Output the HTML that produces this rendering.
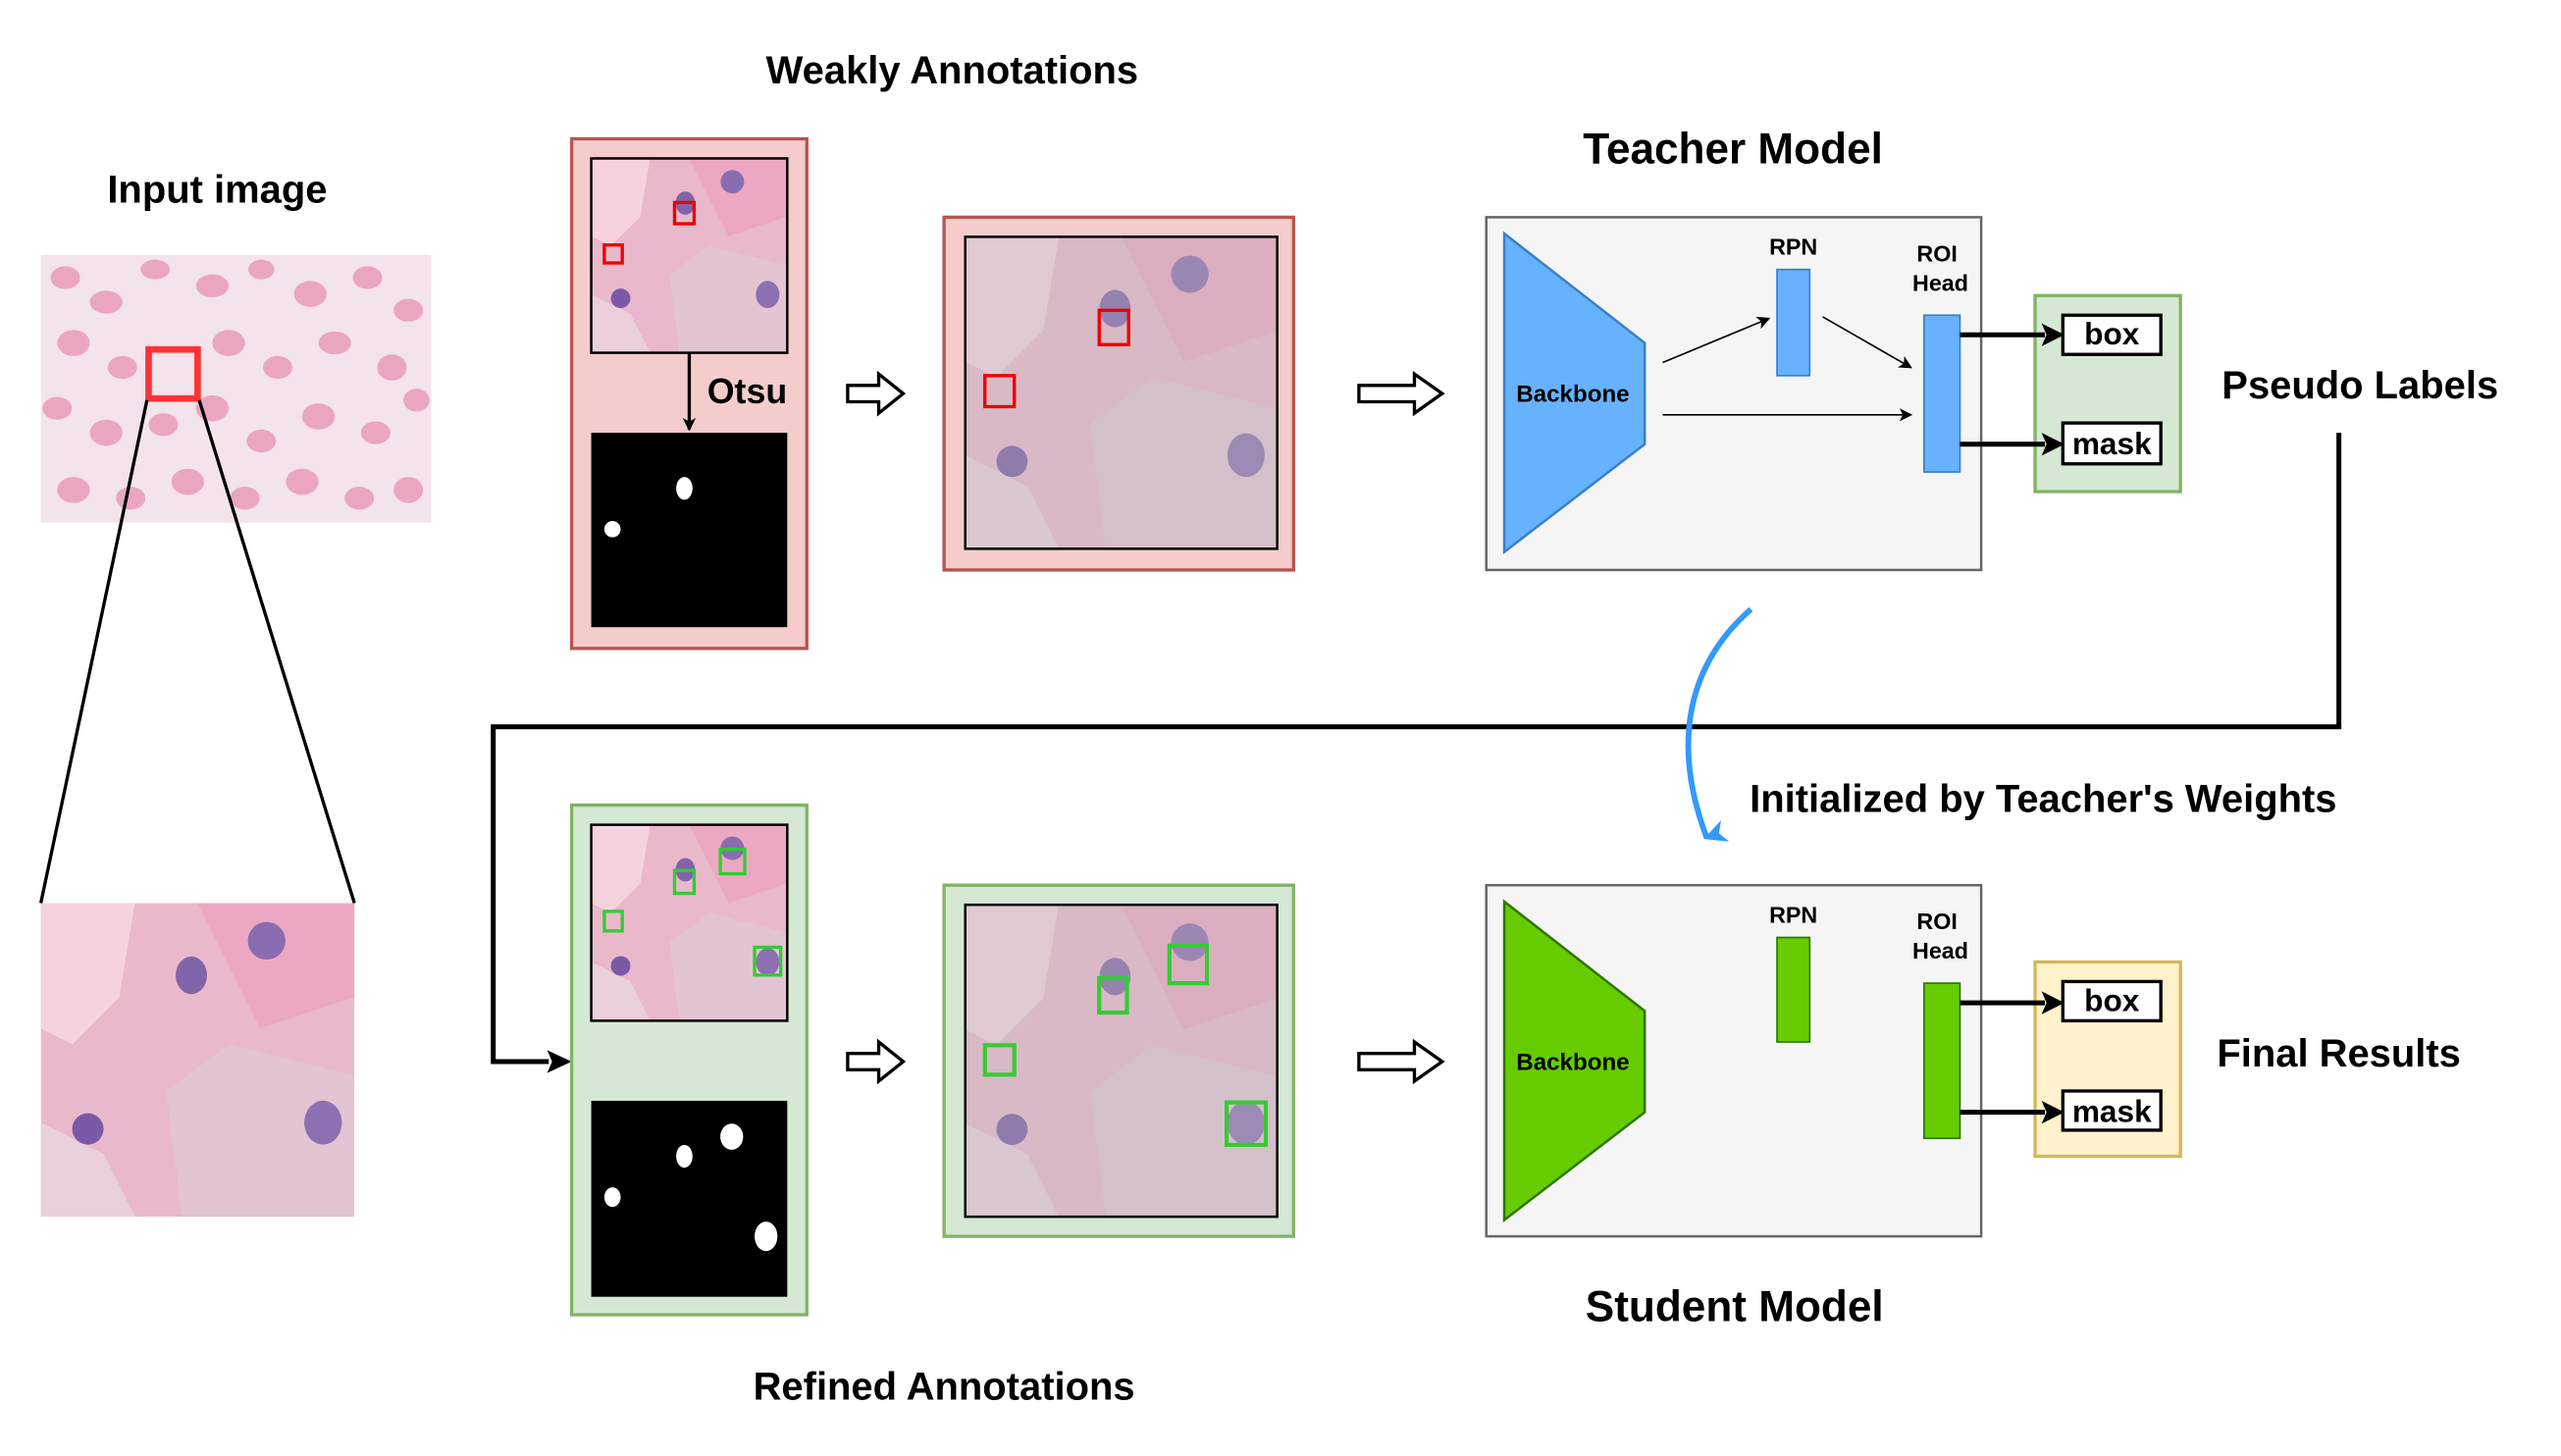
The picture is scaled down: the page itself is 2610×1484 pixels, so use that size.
<!DOCTYPE html>
<html><head><meta charset="utf-8"><style>html,body{margin:0;padding:0;background:#fff}svg{display:block}text{font-family:"Liberation Sans",Arial,sans-serif;font-weight:bold}</style></head>
<body>
<svg width="2610" height="1484" viewBox="0 0 1568 891.5" preserveAspectRatio="none" xmlns="http://www.w3.org/2000/svg">
<defs>
<marker id="ah" markerWidth="8" markerHeight="8" refX="7" refY="4" orient="auto" markerUnits="userSpaceOnUse"><path d="M0,0 L8,4 L0,8 L2,4 z" fill="#000"/></marker>
<marker id="ahblue" markerWidth="14" markerHeight="14" refX="7" refY="12" orient="auto" markerUnits="userSpaceOnUse"><path d="M0,0 L7,14 L14,0 L7,4 z" fill="#3399ff"/></marker>
<symbol id="cells" viewBox="0 0 100 100" preserveAspectRatio="none">
<rect width="100" height="100" fill="#e9b9cb"/>
<path d="M0,0 L30,0 L25,30 L10,45 L0,40 z" fill="#f5d2de"/>
<path d="M40,60 L60,45 L100,55 L100,100 L45,100 z" fill="#e2c4d2"/>
<path d="M0,70 L20,80 L30,100 L0,100 z" fill="#ead0da"/>
<path d="M50,0 L100,0 L100,30 L70,40 z" fill="#eca8c2"/>
<ellipse cx="15" cy="72" rx="5" ry="5" fill="#7a5aa6"/>
<ellipse cx="48" cy="23" rx="5" ry="6" fill="#8264aa"/>
<ellipse cx="72" cy="12" rx="6" ry="6" fill="#8a6cb0"/>
<ellipse cx="90" cy="70" rx="6" ry="7" fill="#8c70b2"/>
</symbol>
</defs>

<text x="133" y="124" font-size="24" text-anchor="middle">Input image</text>
<rect x="25" y="156" width="239" height="164" fill="#f3e3ea"/>
<g fill="#eaa6c1">
<ellipse cx="40" cy="170" rx="9" ry="7"/><ellipse cx="65" cy="185" rx="10" ry="7"/><ellipse cx="95" cy="165" rx="9" ry="6"/><ellipse cx="130" cy="175" rx="10" ry="7"/><ellipse cx="160" cy="165" rx="8" ry="6"/><ellipse cx="190" cy="180" rx="10" ry="8"/><ellipse cx="225" cy="170" rx="9" ry="7"/><ellipse cx="250" cy="190" rx="9" ry="7"/>
<ellipse cx="45" cy="210" rx="10" ry="8"/><ellipse cx="75" cy="225" rx="9" ry="7"/><ellipse cx="140" cy="210" rx="10" ry="8"/><ellipse cx="170" cy="225" rx="9" ry="7"/><ellipse cx="205" cy="210" rx="10" ry="7"/><ellipse cx="240" cy="225" rx="9" ry="8"/>
<ellipse cx="35" cy="250" rx="9" ry="7"/><ellipse cx="65" cy="265" rx="10" ry="8"/><ellipse cx="100" cy="260" rx="9" ry="7"/><ellipse cx="130" cy="250" rx="10" ry="8"/><ellipse cx="160" cy="270" rx="9" ry="7"/><ellipse cx="195" cy="255" rx="10" ry="8"/><ellipse cx="230" cy="265" rx="9" ry="7"/><ellipse cx="255" cy="245" rx="8" ry="7"/>
<ellipse cx="45" cy="300" rx="10" ry="8"/><ellipse cx="80" cy="305" rx="9" ry="7"/><ellipse cx="115" cy="295" rx="10" ry="8"/><ellipse cx="150" cy="305" rx="9" ry="7"/><ellipse cx="185" cy="295" rx="10" ry="8"/><ellipse cx="220" cy="305" rx="9" ry="7"/><ellipse cx="250" cy="300" rx="9" ry="8"/>
</g>
<rect x="91" y="214" width="30" height="30" fill="none" stroke="#ff3333" stroke-width="4"/>
<line x1="90" y1="245" x2="25" y2="553" stroke="#000" stroke-width="2"/>
<line x1="122" y1="245" x2="217" y2="553" stroke="#000" stroke-width="2"/>
<use href="#cells" x="25" y="553" width="192" height="192"/>

<text x="583" y="51" font-size="24" text-anchor="middle">Weakly Annotations</text>
<rect x="350" y="85" width="144" height="312" fill="#f4cccc" stroke="#b85450" stroke-width="2"/>
<use href="#cells" x="362" y="97" width="120" height="119"/>
<rect x="362" y="97" width="120" height="119" fill="none" stroke="#000" stroke-width="1.5"/>
<rect x="370" y="150" width="11" height="11" fill="none" stroke="#e00" stroke-width="2"/>
<rect x="413" y="124" width="12" height="13" fill="none" stroke="#e00" stroke-width="2"/>
<line x1="422" y1="216" x2="422" y2="263" stroke="#000" stroke-width="2" marker-end="url(#ah)"/>
<text x="433" y="247" font-size="21.5">Otsu</text>
<rect x="362" y="265" width="120" height="119" fill="#000"/>
<ellipse cx="419" cy="299" rx="5" ry="7" fill="#fff"/><ellipse cx="375" cy="324" rx="5" ry="5" fill="#fff"/>

<g fill="#fff" stroke="#000" stroke-width="2">
<path d="M519,236 L538,236 L538,229 L553,241 L538,253 L538,246 L519,246 z"/>
<path d="M832,236 L866,236 L866,229 L883,241 L866,253 L866,246 L832,246 z"/>
<path d="M519,645 L538,645 L538,638 L553,650 L538,662 L538,655 L519,655 z"/>
<path d="M832,645 L866,645 L866,638 L883,650 L866,662 L866,655 L832,655 z"/>
</g>

<rect x="578" y="133" width="214" height="216" fill="#f4cccc" stroke="#b85450" stroke-width="2"/>
<use href="#cells" x="591" y="145" width="191" height="191"/>
<rect x="591" y="145" width="191" height="191" fill="#bbb" opacity="0.35"/>
<rect x="591" y="145" width="191" height="191" fill="none" stroke="#000" stroke-width="1.5"/>
<rect x="603" y="230" width="18" height="19" fill="none" stroke="#e00" stroke-width="2"/>
<rect x="673" y="190" width="18" height="21" fill="none" stroke="#e00" stroke-width="2"/>

<text x="1061" y="100" font-size="26.5" text-anchor="middle">Teacher Model</text>
<rect x="910" y="133" width="303" height="216" fill="#f5f5f5" stroke="#666" stroke-width="1.5"/>
<polygon points="921,143 1007,210 1007,272 921,338" fill="#66b2ff" stroke="#3a7fcc" stroke-width="1.5"/>
<text x="963" y="246" font-size="14.5" text-anchor="middle">Backbone</text>
<rect x="1088" y="165" width="20" height="65" fill="#66b2ff" stroke="#3a7fcc"/>
<text x="1098" y="156" font-size="14" text-anchor="middle">RPN</text>
<rect x="1178" y="193" width="22" height="96" fill="#66b2ff" stroke="#3a7fcc"/>
<text x="1186" y="160" font-size="14" text-anchor="middle">ROI</text>
<text x="1188" y="178" font-size="14" text-anchor="middle">Head</text>
<g stroke="#000" stroke-width="1" marker-end="url(#ah)">
<line x1="1018" y1="222" x2="1083" y2="195"/><line x1="1116" y1="194" x2="1170" y2="225"/><line x1="1018" y1="254" x2="1170" y2="254"/>
<line x1="1018" y1="631" x2="1083" y2="604"/><line x1="1116" y1="603" x2="1170" y2="634"/><line x1="1018" y1="662" x2="1170" y2="662"/>
</g>
<rect x="1246" y="181" width="89" height="120" fill="#d5e8d4" stroke="#82b366" stroke-width="2"/>
<rect x="1263" y="193" width="60" height="24" fill="#fff" stroke="#000" stroke-width="2"/>
<text x="1293" y="211" font-size="19" text-anchor="middle">box</text>
<rect x="1263" y="259" width="60" height="25" fill="#fff" stroke="#000" stroke-width="2"/>
<text x="1293" y="278" font-size="19" text-anchor="middle">mask</text>
<text x="1445" y="244" font-size="24" text-anchor="middle">Pseudo Labels</text>

<polyline points="1432,265 1432,445 302,445 302,650 336,650" fill="none" stroke="#000" stroke-width="3"/>
<path d="M350,650 L335,643 L338,650 L335,657 z" fill="#000"/>
<path d="M1072,373 C1030,410 1025,460 1045,513" fill="none" stroke="#3399ff" stroke-width="3.5" marker-end="url(#ahblue)"/>
<text x="1251" y="497" font-size="24" text-anchor="middle">Initialized by Teacher's Weights</text>

<rect x="350" y="493" width="144" height="312" fill="#d5e8d4" stroke="#82b366" stroke-width="2"/>
<use href="#cells" x="362" y="505" width="120" height="120"/>
<rect x="362" y="505" width="120" height="120" fill="none" stroke="#000" stroke-width="1.5"/>
<g fill="none" stroke="#33cc33" stroke-width="2">
<rect x="370" y="558" width="11" height="12"/><rect x="413" y="533" width="12" height="14"/><rect x="441" y="520" width="15" height="15"/><rect x="462" y="580" width="16" height="17"/>
</g>
<rect x="362" y="674" width="120" height="120" fill="#000"/>
<g fill="#fff"><ellipse cx="419" cy="708" rx="5" ry="7"/><ellipse cx="448" cy="696" rx="7" ry="8"/><ellipse cx="375" cy="733" rx="5" ry="6"/><ellipse cx="469" cy="757" rx="7" ry="9"/></g>

<rect x="578" y="542" width="214" height="215" fill="#d5e8d4" stroke="#82b366" stroke-width="2"/>
<use href="#cells" x="591" y="554" width="191" height="191"/>
<rect x="591" y="554" width="191" height="191" fill="#bbb" opacity="0.35"/>
<rect x="591" y="554" width="191" height="191" fill="none" stroke="#000" stroke-width="1.5"/>
<g fill="none" stroke="#33cc33" stroke-width="2.5">
<rect x="603" y="640" width="18" height="18"/><rect x="673" y="599" width="17" height="21"/><rect x="716" y="579" width="23" height="23"/><rect x="751" y="675" width="24" height="26"/>
</g>
<text x="578" y="857" font-size="24" text-anchor="middle">Refined Annotations</text>

<rect x="910" y="542" width="303" height="215" fill="#f5f5f5" stroke="#666" stroke-width="1.5"/>
<polygon points="921,552 1007,619 1007,681 921,747" fill="#66cc00" stroke="#2d7600" stroke-width="1.5"/>
<text x="963" y="655" font-size="14.5" text-anchor="middle">Backbone</text>
<rect x="1088" y="574" width="20" height="64" fill="#66cc00" stroke="#2d7600"/>
<text x="1098" y="565" font-size="14" text-anchor="middle">RPN</text>
<rect x="1178" y="602" width="22" height="95" fill="#66cc00" stroke="#2d7600"/>
<text x="1186" y="569" font-size="14" text-anchor="middle">ROI</text>
<text x="1188" y="587" font-size="14" text-anchor="middle">Head</text>
<rect x="1246" y="589" width="89" height="119" fill="#fff2cc" stroke="#d6b656" stroke-width="2"/>
<rect x="1263" y="601" width="60" height="24" fill="#fff" stroke="#000" stroke-width="2"/>
<text x="1293" y="619" font-size="19" text-anchor="middle">box</text>
<rect x="1263" y="668" width="60" height="24" fill="#fff" stroke="#000" stroke-width="2"/>
<text x="1293" y="687" font-size="19" text-anchor="middle">mask</text>
<text x="1432" y="653" font-size="24" text-anchor="middle">Final Results</text>
<text x="1062" y="809" font-size="26.5" text-anchor="middle">Student Model</text>

<g stroke="#000" stroke-width="3">
<line x1="1200" y1="205" x2="1252" y2="205"/><line x1="1200" y1="272" x2="1252" y2="272"/>
<line x1="1200" y1="614" x2="1252" y2="614"/><line x1="1200" y1="681" x2="1252" y2="681"/>
</g>
<g fill="#000">
<path d="M1264,205 L1250,198 L1253,205 L1250,212 z"/><path d="M1264,272 L1250,265 L1253,272 L1250,279 z"/>
<path d="M1264,614 L1250,607 L1253,614 L1250,621 z"/><path d="M1264,681 L1250,674 L1253,681 L1250,688 z"/>
</g>
</svg>
</body></html>
